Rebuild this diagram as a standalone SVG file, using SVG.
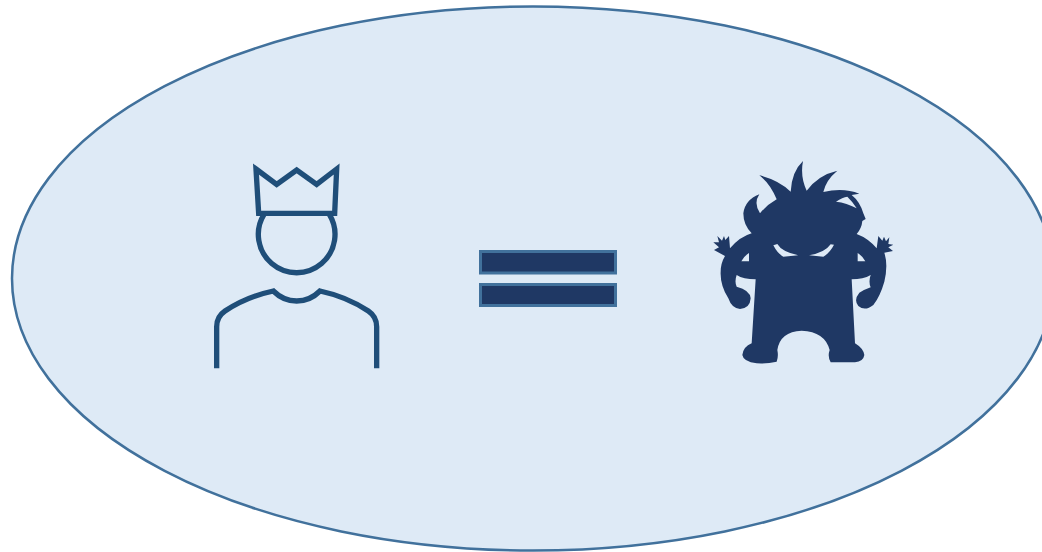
<svg xmlns="http://www.w3.org/2000/svg" width="1042" height="552" viewBox="0 0 1042 552">
<style>
.bg{fill:#deeaf6;stroke:#41719c;stroke-width:2.5}
.line{fill:none;stroke:#1f4e79;stroke-width:16}
.bar{fill:#1f3864;stroke:#41719c;stroke-width:3}
.mon{fill:#1f3864;fill-rule:evenodd}
</style>
<g id="ellipse"><ellipse class="bg" cx="533" cy="278.5" rx="521" ry="272"/></g>
<g id="person" transform="translate(200 155) scale(.33333)">
<path class="line" d="M168 42L230 88L290 45L350 88L410 42L404 175H176Z"/>
<path class="line" d="M192 178A115 115 0 1 0 388 178"/>
<path class="line" d="M50 640V515Q50 485 75 468Q140 425 220 408Q250 438 290 438Q330 438 360 408Q440 425 505 468Q530 485 530 515V640"/>
</g>
<g id="equals">
<rect class="bar" x="480.5" y="251.5" width="135" height="21.5"/>
<rect class="bar" x="480.5" y="284.5" width="135" height="21"/>
</g>
<g id="monster" transform="translate(700 150) scale(.33333)">
<path class="mon" d="M309 33Q300 80 320 122Q355 75 412 62Q378 90 370 126Q430 112 478 131L455 135Q480 155 490 190L497 207L487 213Q485 235 470 252Q505 265 530 295L535 258L547 272L552 260L558 274L568 262L565 282L580 284L565 292L579 303L553 308Q565 345 553 395Q540 440 520 465Q495 485 475 468Q460 450 478 428Q495 418 512 412Q505 395 512 375Q490 388 455 388L465 580Q490 595 493 615Q490 635 465 637L392 637Q382 620 389 600Q375 545 305 542Q240 545 232 600Q236 620 230 635Q200 642 170 640Q130 635 127 615Q130 590 155 580L167 388Q130 388 110 375Q103 395 110 410Q150 420 152 445Q150 475 120 477Q95 475 85 445Q60 405 62 365Q62 340 75 318L42 300L57 292L40 277L57 277L52 258L66 272L72 258L76 270L87 258L90 295Q120 260 155 250Q130 225 130 190Q135 150 178 133Q160 160 180 190Q200 165 230 148Q210 100 178 76Q235 90 272 125Q275 65 309 33Z
M408 155Q428 142 442 140Q458 155 470 175Q440 158 408 155Z
M220 286L232 282Q245 305 295 316L250 320Q232 310 220 286Z
M402 284L392 283Q375 308 327 316L370 320Q390 308 402 284Z
M147 309V334H124Q132 318 147 309Z
M473 309V334H496Q488 318 473 309Z"/>
</g>
</svg>
